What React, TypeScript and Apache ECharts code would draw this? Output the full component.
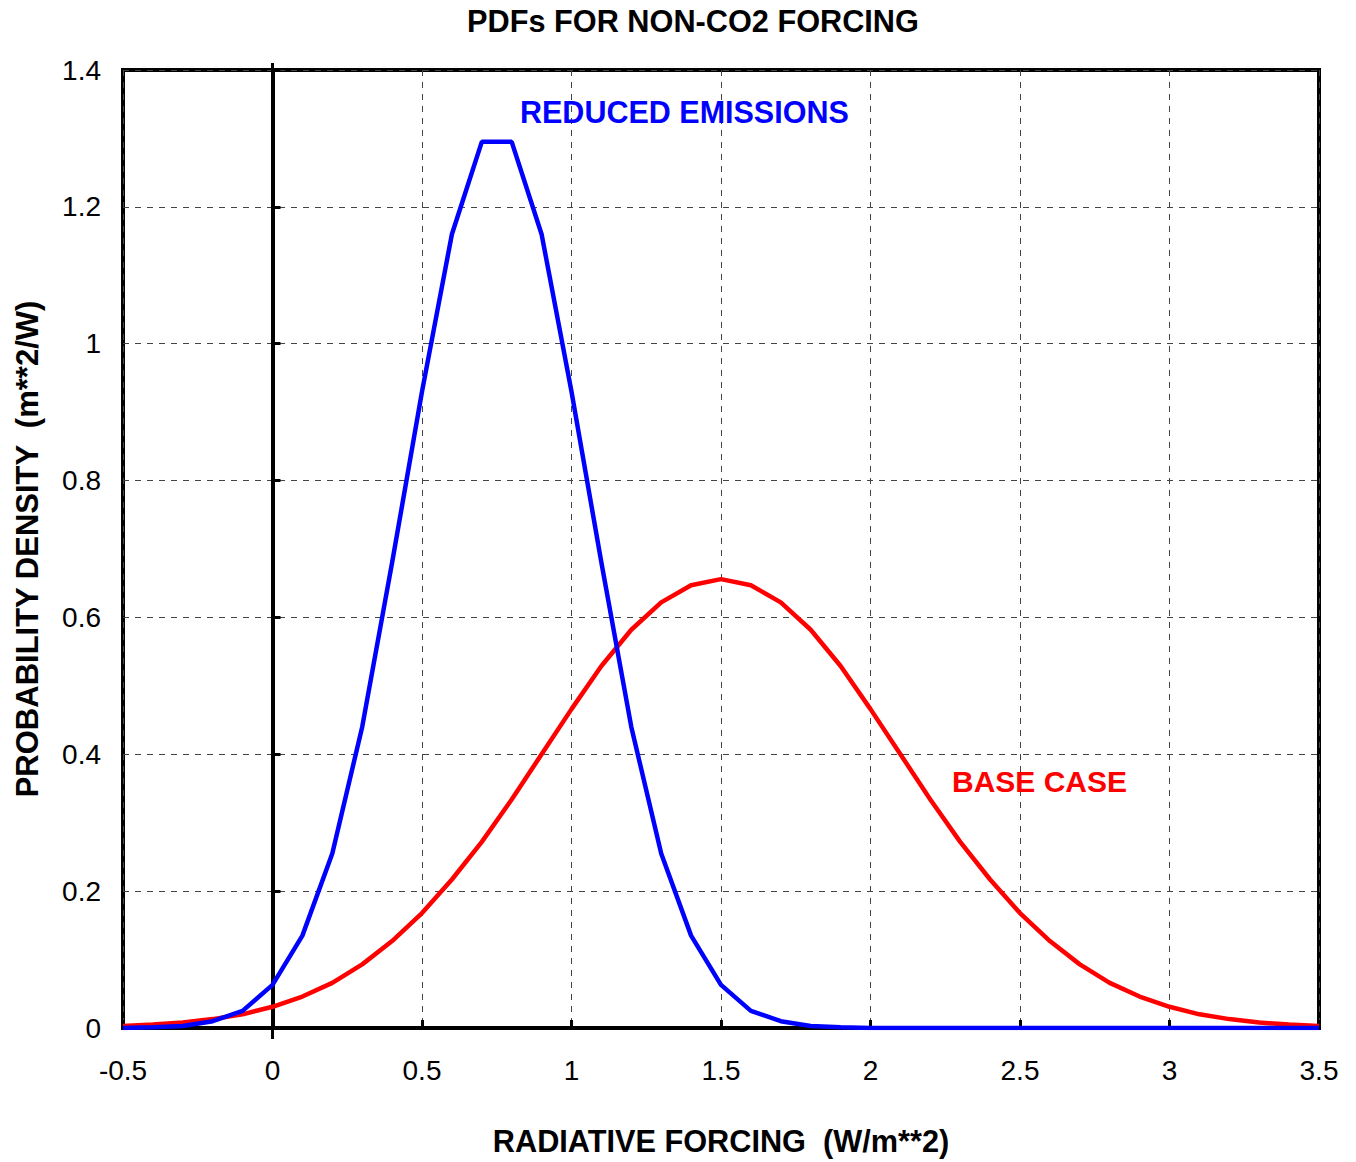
import React, { useEffect, useRef } from "react";
import * as echarts from "echarts";

const xValues = [
  -0.5, -0.4, -0.3, -0.2, -0.1, 0, 0.1, 0.2, 0.3, 0.4, 0.5, 0.6, 0.7, 0.8, 0.9, 1.0,
  1.1, 1.2, 1.3, 1.4, 1.5, 1.6, 1.7, 1.8, 1.9, 2.0, 2.1, 2.2, 2.3, 2.4, 2.5, 2.6, 2.7,
  2.8, 2.9, 3.0, 3.1, 3.2, 3.3, 3.4, 3.5,
];

const reducedEmissions = [
  0.0, 0.001, 0.003, 0.01, 0.025, 0.063, 0.135, 0.255, 0.44, 0.68, 0.93, 1.16, 1.295,
  1.295, 1.16, 0.93, 0.68, 0.44, 0.255, 0.135, 0.063, 0.025, 0.01, 0.003, 0.001, 0.0,
  0.0, 0.0, 0.0, 0.0, 0.0, 0.0, 0.0, 0.0, 0.0, 0.0, 0.0, 0.0, 0.0, 0.0, 0.0,
];

const baseCase = [
  0.003, 0.005, 0.008, 0.013, 0.02, 0.031, 0.046, 0.066, 0.093, 0.127, 0.168, 0.217,
  0.272, 0.334, 0.4, 0.466, 0.529, 0.582, 0.622, 0.647, 0.656, 0.647, 0.622, 0.582,
  0.529, 0.466, 0.4, 0.334, 0.272, 0.217, 0.168, 0.127, 0.093, 0.066, 0.046, 0.031,
  0.02, 0.013, 0.008, 0.005, 0.003,
];

const FONT = "'Liberation Sans', Arial, sans-serif";

export default function App() {
  const ref = useRef<HTMLDivElement>(null);
  useEffect(() => {
    if (!ref.current) return;
    const chart = echarts.init(ref.current, null, { renderer: "svg" });
    const blue = xValues.map((x, i) => [x, reducedEmissions[i]]);
    const red = xValues.map((x, i) => [x, baseCase[i]]);
    chart.setOption({
      animation: false,
      backgroundColor: "#ffffff",
      textStyle: { fontFamily: FONT },
      title: {
        text: "PDFs FOR NON-CO2 FORCING",
        left: 688,
        textAlign: "center",
        top: 1,
        textStyle: { fontFamily: FONT, fontSize: 30.7, fontWeight: "bold", color: "#000" },
      },
      grid: {
        left: 123,
        top: 70,
        width: 1196,
        height: 959,
        show: true,
        borderColor: "#000",
        borderWidth: 4,
        backgroundColor: "transparent",
      },
      xAxis: {
        type: "value",
        min: -0.5,
        max: 3.5,
        interval: 0.5,
        name: "RADIATIVE FORCING  (W/m**2)",
        nameLocation: "middle",
        nameGap: 98,
        nameTextStyle: { fontFamily: FONT, fontSize: 30.7, fontWeight: "bold", color: "#000" },
        axisLine: { show: true, onZero: false, lineStyle: { color: "#000", width: 4 } },
        axisTick: { show: true, inside: true, length: 8, lineStyle: { color: "#000", width: 3 } },
        axisLabel: { fontFamily: FONT, fontSize: 28, color: "#000", margin: 28 },
        splitLine: { show: true, lineStyle: { color: "#444", type: [6, 6], width: 1 } },
      },
      yAxis: {
        type: "value",
        min: 0,
        max: 1.4,
        interval: 0.2,
        name: "PROBABILITY DENSITY  (m**2/W)",
        nameLocation: "middle",
        nameGap: 80,
        nameTextStyle: { fontFamily: FONT, fontSize: 31, fontWeight: "bold", color: "#000" },
        axisLine: { show: true, lineStyle: { color: "#000", width: 4 } },
        axisTick: { show: true, inside: true, length: 8, lineStyle: { color: "#000", width: 3 } },
        axisLabel: {
          fontFamily: FONT,
          fontSize: 28,
          color: "#000",
          margin: 22,
          formatter: (v: number) => String(Math.round(v * 10) / 10),
        },
        splitLine: { show: true, lineStyle: { color: "#444", type: [6, 6], width: 1 } },
      },
      series: [
        {
          name: "BASE CASE",
          type: "line",
          data: red,
          showSymbol: false,
          symbol: "none",
          lineStyle: { color: "#ff0000", width: 4.5 },
          z: 3,
        },
        {
          name: "REDUCED EMISSIONS",
          type: "line",
          data: blue,
          showSymbol: false,
          symbol: "none",
          lineStyle: { color: "#0000ff", width: 4.5 },
          z: 4,
        },
      ],
    });
    const zx = chart.convertToPixel({ xAxisIndex: 0 }, 0) as number;
    const yTop = chart.convertToPixel({ yAxisIndex: 0 }, 1.4) as number;
    const yBot = chart.convertToPixel({ yAxisIndex: 0 }, 0) as number;
    chart.setOption({
      graphic: [
        {
          type: "text",
          left: 520,
          top: 96,
          style: { text: "REDUCED EMISSIONS", fill: "#0000ff", font: `bold 30.5px ${FONT}` },
        },
        {
          type: "text",
          left: 952,
          top: 766,
          style: { text: "BASE CASE", fill: "#ff0000", font: `bold 30px ${FONT}` },
        },
        {
          type: "line",
          shape: { x1: zx, y1: yTop - 7, x2: zx, y2: yBot + 11 },
          style: { stroke: "#000", lineWidth: 3 },
          z: 2,
        },
      ],
    });
    return () => chart.dispose();
  }, []);
  return (
    <div
      ref={ref}
      style={{ position: "absolute", left: 0, top: 0, width: 1356, height: 1162 }}
    />
  );
}
